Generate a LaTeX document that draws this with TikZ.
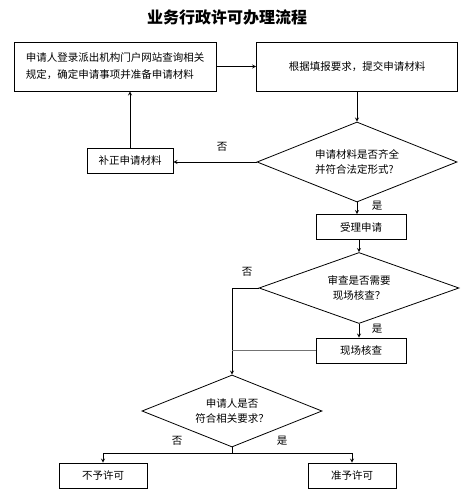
\documentclass[tikz,border=0pt]{standalone}
\usepackage{fontspec}
\setmainfont{Noto Sans CJK SC}
\usetikzlibrary{shapes.geometric}

\begin{document}
\begin{tikzpicture}[>=stealth,x=1pt,y=-1pt,
    box/.style={draw,line width=0.8pt,minimum height=25pt,inner sep=2pt,font=\fontsize{10.5}{17}\selectfont},
    choice/.style={draw,diamond,aspect=2.5,line width=0.8pt,inner sep=0pt,align=center,font=\fontsize{10.5}{15}\selectfont},
    tag/.style={font=\fontsize{10.5}{12}\selectfont},
    flow/.style={->,line width=0.8pt}]

    \useasboundingbox (0,0) rectangle (467,492);

%the title
    \node[font=\fontsize{16}{18}\selectfont\bfseries] (title) at (227,17) {业务行政许可办理流程};

%the boxes
    \node[box,minimum width=202pt,minimum height=49pt,align=left] (login) at (115,66.5) {申请人登录派出机构门户网站查询相关\\规定，确定申请事项并准备申请材料};
    \node[box,minimum width=201pt,minimum height=49pt] (submit) at (357,66.5) {根据填报要求，提交申请材料};
    \node[box,minimum width=86pt] (fix) at (130,160.5) {补正申请材料};
    \node[box,minimum width=90pt] (accept) at (361,227) {受理申请};
    \node[box,minimum width=90pt] (site) at (361,350.5) {现场核查};
    \node[box,minimum width=88pt] (reject) at (103,475.5) {不予许可};
    \node[box,minimum width=88pt] (grant) at (352,475.5) {准予许可};

%the decisions
    \node[choice,minimum width=200pt,minimum height=80pt,align=left] (full) at (357,162) {申请材料是否齐全\\并符合法定形式?};
    \node[choice,minimum width=200pt,minimum height=71pt] (need) at (359,288) {审查是否需要\\现场核查？};
    \node[choice,minimum width=180pt,minimum height=72pt] (meet) at (232,411) {申请人是否\\符合相关要求？};

%the answers
    \node[tag] (no1) at (222,147) {否};
    \node[tag] (yes1) at (377,206) {是};
    \node[tag] (no2) at (247,272) {否};
    \node[tag] (yes2) at (377,329) {是};
    \node[tag] (no3) at (177,441) {否};
    \node[tag] (yes3) at (282,441) {是};

%the flow
    \draw[flow] (login) -- (submit);
    \draw[flow] (submit) -- (full);
    \draw[flow] (full.west) -- (full.west -| fix.east);
    \draw[flow] (fix.north) -- (fix.north |- login.south);
    \draw[flow] (full.south) -- (full.south |- accept.north);
    \draw[flow] (need.north |- accept.south) -- (need.north);
    \draw[flow] (need.south) -- (need.south |- site.north);
    \draw[flow] (need.west) -| (meet.north);
    \draw[black!55,line width=0.8pt] (site.west) -- (site.west -| meet.north);
    \draw[line width=0.8pt] (meet.south) -- ++(0,6) coordinate (fork);
    \draw[flow] (fork) -| (reject.north);
    \draw[flow] (fork) -| (grant.north);
\end{tikzpicture}
\end{document}
